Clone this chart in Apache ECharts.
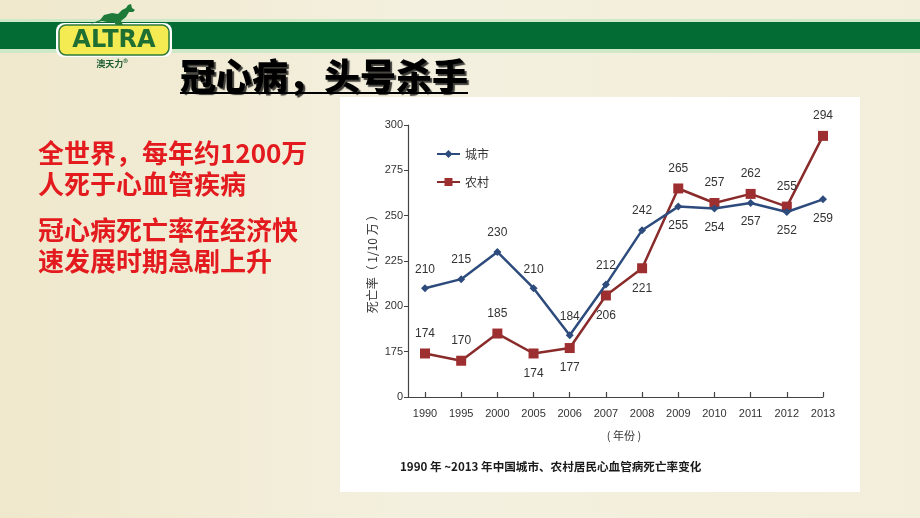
<!DOCTYPE html>
<html><head><meta charset="utf-8">
<script src="https://cdn.jsdelivr.net/npm/echarts@6/dist/echarts.min.js"></script>
<style>html,body{margin:0;padding:0;background:#f3eedb}#c{width:920px;height:518px}</style>
</head><body><div id="c"></div>
<script>
const years = ['1990','1995','2000','2005','2006','2007','2008','2009','2010','2011','2012','2013'];
const cityValues = [210,215,230,210,184,212,242,255,254,257,252,259];
const ruralValues = [174,170,185,174,177,206,221,265,257,262,255,294];
const cityLabelPos = ['top','top','top','top','top','top','top','bottom','bottom','bottom','bottom','bottom'];
const ruralLabelPos = ['top','top','top','bottom','bottom','bottom','bottom','top','top','top','top','top'];
const yTicks = [150,175,200,225,250,275,300];
const yTickText = ['0','175','200','225','250','275','300'];
const seriesNames = ['城市','农村'];

const chart = echarts.init(document.getElementById('c'), null, {renderer:'canvas'});
const numFont = '"Liberation Sans", Arial, sans-serif';
const cjk = '"Noto Sans CJK SC", sans-serif';

function mk(vals, pos){ return vals.map((v,i)=>({value:v,label:{position:pos[i]}})); }

chart.setOption({
  animation:false,
  graphic:[
    {type:'rect',z:-10,shape:{x:0,y:0,width:920,height:518},style:{fill:{type:'linear',x:0,y:0,x2:1,y2:0,colorStops:[{offset:0,color:'#efe8cc'},{offset:0.45,color:'#f4f0df'},{offset:1,color:'#f3eedb'}]}}},
    {type:'rect',z:-9,shape:{x:0,y:19,width:920,height:34},style:{fill:'#cfe8c8'}},
    {type:'rect',z:-8,shape:{x:0,y:22,width:920,height:27},style:{fill:'#036c35'}},
    {type:'rect',z:-7,shape:{x:340,y:97,width:520,height:395},style:{fill:'#ffffff'}},
    {type:'rect',z:5,shape:{x:56,y:23,width:116,height:34,r:8},style:{fill:'#ffffff'}},
    {type:'rect',z:6,shape:{x:59,y:25,width:110,height:30,r:7},style:{fill:'#f4ea52',stroke:'#2e7a3a',lineWidth:1.5}},
    {type:'text',z:7,style:{x:114,y:41,text:'ALTRA',fill:'#1f6f33',font:'bold 24px "DejaVu Sans", sans-serif',align:'center',verticalAlign:'middle'}},
    {type:'text',z:7,style:{x:112,y:64,text:'澳天力®',fill:'#1f5f33',font:'bold 9px '+cjk,align:'center',verticalAlign:'middle'}},
    {type:'polygon',z:7,shape:{points:[[100,20],[104,15],[112,13],[118,14],[122,10],[126,8],[128,5],[131,4],[132,8],[135,10],[133,12],[129,12],[126,17],[121,21],[123,25],[116,25],[114,22],[107,22],[102,21],[90,24]]},style:{fill:'#1f7a3a'}},
    {type:'text',z:7,style:{x:180,y:76,text:'冠心病，头号杀手',fill:'#000',font:'900 36px '+cjk,verticalAlign:'middle',textShadowColor:'rgba(0,0,0,0.75)',textShadowOffsetX:2,textShadowOffsetY:2,textShadowBlur:1}},
    {type:'rect',z:7,shape:{x:180,y:92,width:288,height:2},style:{fill:'#000'}},
    {type:'text',z:7,style:{x:38,y:153,text:'全世界，每年约1200万',fill:'#e31b1f',font:'bold 26px '+cjk,verticalAlign:'middle'}},
    {type:'text',z:7,style:{x:38,y:184,text:'人死于心血管疾病',fill:'#e31b1f',font:'bold 26px '+cjk,verticalAlign:'middle'}},
    {type:'text',z:7,style:{x:38,y:230,text:'冠心病死亡率在经济快',fill:'#e31b1f',font:'bold 26px '+cjk,verticalAlign:'middle'}},
    {type:'text',z:7,style:{x:38,y:261,text:'速发展时期急剧上升',fill:'#e31b1f',font:'bold 26px '+cjk,verticalAlign:'middle'}},
    {type:'text',z:7,style:{x:400,y:467,text:'1990 年 ~2013 年中国城市、农村居民心血管病死亡率变化',fill:'#1a1a1a',font:'bold 11.6px '+cjk,verticalAlign:'middle'}}
  ],
  legend:{orient:'vertical',left:431,top:143,itemWidth:23,itemHeight:10,itemGap:16,data:seriesNames,
    textStyle:{fontSize:12,color:'#333',fontFamily:cjk}},
  grid:[{left:425,right:97,top:125,bottom:121},{left:408,right:97,top:125,bottom:121}],
  xAxis:[{type:'category',data:years,boundaryGap:false,gridIndex:0,
    axisLine:{show:false},axisTick:{show:true,inside:true,length:5,alignWithLabel:true,lineStyle:{color:'#444',width:1.2}},
    axisLabel:{color:'#333',fontSize:11,fontFamily:numFont,margin:11},
    name:'( 年份 )',nameLocation:'middle',nameGap:33,nameTextStyle:{color:'#333',fontSize:11,fontFamily:cjk}},
    {type:'value',gridIndex:1,min:0,max:1,axisLine:{show:true,lineStyle:{color:'#444',width:1.2}},axisTick:{show:false},axisLabel:{show:false},splitLine:{show:false}}],
  yAxis:[{type:'value',min:150,max:300,interval:25,offset:17,gridIndex:0,
    axisLine:{show:true,lineStyle:{color:'#444',width:1.2}},axisTick:{show:true,length:4,lineStyle:{color:'#444'}},splitLine:{show:false},
    axisLabel:{color:'#333',fontSize:11,fontFamily:numFont,margin:5,formatter:v=>yTickText[yTicks.indexOf(v)]},
    name:'死亡率（ 1/10 万 ）',nameLocation:'middle',nameGap:30,nameTextStyle:{color:'#333',fontSize:12,fontFamily:cjk}},
    {type:'value',gridIndex:1,show:false}],
  series:[
    {name:seriesNames[0],type:'line',data:mk(cityValues,cityLabelPos),symbol:'diamond',symbolSize:8,
      itemStyle:{color:'#2d4b7c'},lineStyle:{color:'#2d4b7c',width:2.5},
      label:{show:true,color:'#333',fontSize:12,fontFamily:numFont,distance:9},z:3},
    {name:seriesNames[1],type:'line',data:mk(ruralValues,ruralLabelPos),symbol:'rect',symbolSize:10,
      itemStyle:{color:'#9e2f30'},lineStyle:{color:'#8a2b2b',width:2.5},
      label:{show:true,color:'#333',fontSize:12,fontFamily:numFont,distance:9},z:2}
  ]
});
</script></body></html>
